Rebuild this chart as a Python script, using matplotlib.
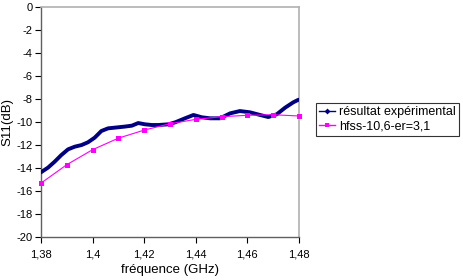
import matplotlib
matplotlib.use("Agg")
import matplotlib.pyplot as plt
from matplotlib.lines import Line2D

plt.rcParams['font.family'] = ['Liberation Sans', 'DejaVu Sans']

exp_f = [1.3800, 1.3827, 1.3853, 1.3879, 1.3905, 1.3931, 1.3957, 1.3982, 1.4008,
         1.4034, 1.4060, 1.4086, 1.4124, 1.4152, 1.4177, 1.4203, 1.4229, 1.4255,
         1.4294, 1.4320, 1.4358, 1.4391, 1.4423, 1.4455, 1.4494, 1.4533, 1.4571,
         1.4610, 1.4649, 1.4681, 1.4714, 1.4746, 1.4778, 1.4798]
exp_s11 = [-14.36, -13.96, -13.44, -12.86, -12.37, -12.14, -12.00, -11.76, -11.36,
           -10.78, -10.55, -10.49, -10.40, -10.32, -10.09, -10.20, -10.26, -10.26,
           -10.20, -10.03, -9.68, -9.39, -9.59, -9.68, -9.68, -9.25, -9.05,
           -9.16, -9.39, -9.57, -9.33, -8.76, -8.29, -8.07]

# HFSS simulation
sim_f = [1.38, 1.39, 1.40, 1.41, 1.42, 1.43, 1.44, 1.45, 1.46, 1.47, 1.48]
sim_s11 = [-15.3, -13.7, -12.4, -11.4, -10.7, -10.15, -9.77, -9.54, -9.42, -9.37, -9.48]

x_ticks = [1.38, 1.40, 1.42, 1.44, 1.46, 1.48]
x_labels = ['1,38', '1,4', '1,42', '1,44', '1,46', '1,48']
y_ticks = list(range(-20, 1, 2))

fig = plt.figure(figsize=(4.64, 2.80), dpi=100)
ax = fig.add_axes([41/464, 1-237.3/280, (299-41)/464, (237.3-6.7)/280])

ax.plot(exp_f, exp_s11, color='#000080', lw=2.8, solid_capstyle='round',
        solid_joinstyle='round', zorder=3)
ax.plot(sim_f, sim_s11, color='#FF00FF', lw=0.8, marker='s', markersize=3.6,
        markeredgewidth=0, zorder=4, clip_on=False)

ax.set_xlim(1.38, 1.48)
ax.set_ylim(-20, 0)
ax.set_xticks(x_ticks)
ax.set_xticklabels(x_labels)
ax.set_yticks(y_ticks)
ax.set_yticklabels([str(v) for v in y_ticks])
ax.tick_params(axis='both', direction='out', length=4, width=0.8, labelsize=8,
               colors='#000000', pad=2)
ax.tick_params(axis='x', pad=5)

for s in ['top', 'right']:
    ax.spines[s].set_color('#B0B0B0')
    ax.spines[s].set_linewidth(1.2)
for s in ['left', 'bottom']:
    ax.spines[s].set_color('#606060')
    ax.spines[s].set_linewidth(1.0)

ax.set_xlabel('fréquence (GHz)', fontsize=9.5, labelpad=3)
ax.set_ylabel('S11(dB)', fontsize=9.5, labelpad=2)

handles = [
    Line2D([0], [0], color='#000080', lw=1.0, marker='D', markersize=3,
           markeredgewidth=0),
    Line2D([0], [0], color='#FF00FF', lw=1.0, marker='s', markersize=3.5,
           markeredgewidth=0),
]
leg = fig.legend(handles, ['résultat expérimental', 'hfss-10,6-er=3,1'],
                 loc='upper left', bbox_to_anchor=(316/464, 1-103/280),
                 fontsize=9, frameon=True, fancybox=False, shadow=False,
                 handlelength=1.3, handletextpad=0.3, borderpad=0.25,
                 labelspacing=0.2, borderaxespad=0)
leg.get_frame().set_edgecolor('#000000')
leg.get_frame().set_linewidth(0.8)

fig.savefig('out.png', dpi=100)
